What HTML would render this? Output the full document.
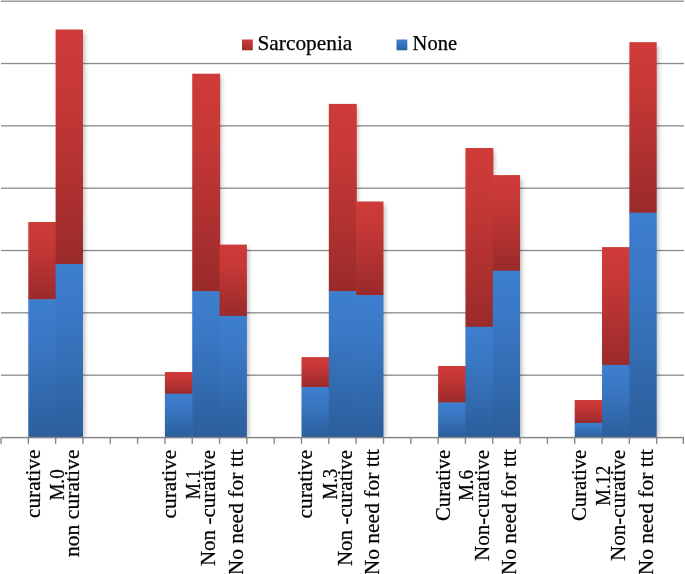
<!DOCTYPE html>
<html><head><meta charset="utf-8"><title>chart</title>
<style>
html,body{margin:0;padding:0;background:#fff;}
body{width:685px;height:574px;overflow:hidden;}
svg{display:block;}
text{font-family:"Liberation Serif",serif;fill:#000;stroke:#000;stroke-width:0.25px;}
.tx{opacity:0.999;}
</style></head><body>
<svg width="685" height="574" viewBox="0 0 685 574">
<defs>
<linearGradient id="gr" x1="0" y1="0" x2="0" y2="1"><stop offset="0" stop-color="#cf3b38"/><stop offset="0.3" stop-color="#c53836"/><stop offset="1" stop-color="#9a2a2a"/></linearGradient>
<linearGradient id="gb" x1="0" y1="0" x2="0" y2="1"><stop offset="0" stop-color="#3d7ecf"/><stop offset="0.3" stop-color="#3a78c5"/><stop offset="1" stop-color="#2b5e9b"/></linearGradient>
<clipPath id="cp"><rect x="0" y="0" width="685" height="437.2"/></clipPath>
<filter id="sh" x="-30%" y="-5%" width="180%" height="110%"><feGaussianBlur stdDeviation="2"/></filter>
</defs>
<rect width="685" height="574" fill="#fff"/>
<rect x="1.0" y="0.55" width="683.0" height="1.3" fill="#8a8a8a"/>
<rect x="1.0" y="62.88" width="683.0" height="1.3" fill="#8a8a8a"/>
<rect x="1.0" y="125.21" width="683.0" height="1.3" fill="#8a8a8a"/>
<rect x="1.0" y="187.54" width="683.0" height="1.3" fill="#8a8a8a"/>
<rect x="1.0" y="249.87" width="683.0" height="1.3" fill="#8a8a8a"/>
<rect x="1.0" y="312.20" width="683.0" height="1.3" fill="#8a8a8a"/>
<rect x="1.0" y="374.53" width="683.0" height="1.3" fill="#8a8a8a"/>
<g clip-path="url(#cp)"><g filter="url(#sh)" fill="#000" opacity="0.24">
<rect x="30.32" y="225.50" width="27.32" height="212.10"/>
<rect x="57.64" y="33.00" width="27.32" height="404.60"/>
<rect x="166.92" y="375.50" width="27.32" height="62.10"/>
<rect x="194.24" y="77.20" width="27.32" height="360.40"/>
<rect x="221.56" y="248.10" width="27.32" height="189.50"/>
<rect x="303.52" y="360.60" width="27.32" height="77.00"/>
<rect x="330.84" y="107.40" width="27.32" height="330.20"/>
<rect x="358.16" y="205.00" width="27.32" height="232.60"/>
<rect x="440.12" y="369.50" width="27.32" height="68.10"/>
<rect x="467.44" y="151.50" width="27.32" height="286.10"/>
<rect x="494.76" y="178.60" width="27.32" height="259.00"/>
<rect x="576.72" y="403.50" width="27.32" height="34.10"/>
<rect x="604.04" y="250.60" width="27.32" height="187.00"/>
<rect x="631.36" y="45.70" width="27.32" height="391.90"/>
</g></g>
<rect x="28.32" y="222.00" width="27.92" height="77.80" fill="url(#gr)"/>
<rect x="28.32" y="299.30" width="27.92" height="138.30" fill="url(#gb)"/>
<rect x="55.64" y="29.50" width="27.32" height="235.00" fill="url(#gr)"/>
<rect x="55.64" y="264.00" width="27.32" height="173.60" fill="url(#gb)"/>
<rect x="164.92" y="372.00" width="27.92" height="22.20" fill="url(#gr)"/>
<rect x="164.92" y="393.70" width="27.92" height="43.90" fill="url(#gb)"/>
<rect x="192.24" y="73.70" width="27.92" height="218.00" fill="url(#gr)"/>
<rect x="192.24" y="291.20" width="27.92" height="146.40" fill="url(#gb)"/>
<rect x="219.56" y="244.60" width="27.32" height="71.80" fill="url(#gr)"/>
<rect x="219.56" y="315.90" width="27.32" height="121.70" fill="url(#gb)"/>
<rect x="301.52" y="357.10" width="27.92" height="30.50" fill="url(#gr)"/>
<rect x="301.52" y="387.10" width="27.92" height="50.50" fill="url(#gb)"/>
<rect x="328.84" y="103.90" width="27.92" height="187.80" fill="url(#gr)"/>
<rect x="328.84" y="291.20" width="27.92" height="146.40" fill="url(#gb)"/>
<rect x="356.16" y="201.50" width="27.32" height="94.10" fill="url(#gr)"/>
<rect x="356.16" y="295.10" width="27.32" height="142.50" fill="url(#gb)"/>
<rect x="438.12" y="366.00" width="27.92" height="36.90" fill="url(#gr)"/>
<rect x="438.12" y="402.40" width="27.92" height="35.20" fill="url(#gb)"/>
<rect x="465.44" y="148.00" width="27.92" height="179.30" fill="url(#gr)"/>
<rect x="465.44" y="326.80" width="27.92" height="110.80" fill="url(#gb)"/>
<rect x="492.76" y="175.10" width="27.32" height="96.10" fill="url(#gr)"/>
<rect x="492.76" y="270.70" width="27.32" height="166.90" fill="url(#gb)"/>
<rect x="574.72" y="400.00" width="27.92" height="23.40" fill="url(#gr)"/>
<rect x="574.72" y="422.90" width="27.92" height="14.70" fill="url(#gb)"/>
<rect x="602.04" y="247.10" width="27.92" height="118.30" fill="url(#gr)"/>
<rect x="602.04" y="364.90" width="27.92" height="72.70" fill="url(#gb)"/>
<rect x="629.36" y="42.20" width="27.32" height="171.00" fill="url(#gr)"/>
<rect x="629.36" y="212.70" width="27.32" height="224.90" fill="url(#gb)"/>
<rect x="1.0" y="436.85" width="683.0" height="1.5" fill="#868686"/>
<rect x="0.30" y="437.60" width="1.4" height="6.2" fill="#868686"/>
<rect x="27.62" y="437.60" width="1.4" height="6.2" fill="#868686"/>
<rect x="54.94" y="437.60" width="1.4" height="6.2" fill="#868686"/>
<rect x="82.26" y="437.60" width="1.4" height="6.2" fill="#868686"/>
<rect x="109.58" y="437.60" width="1.4" height="6.2" fill="#868686"/>
<rect x="136.90" y="437.60" width="1.4" height="6.2" fill="#868686"/>
<rect x="164.22" y="437.60" width="1.4" height="6.2" fill="#868686"/>
<rect x="191.54" y="437.60" width="1.4" height="6.2" fill="#868686"/>
<rect x="218.86" y="437.60" width="1.4" height="6.2" fill="#868686"/>
<rect x="246.18" y="437.60" width="1.4" height="6.2" fill="#868686"/>
<rect x="273.50" y="437.60" width="1.4" height="6.2" fill="#868686"/>
<rect x="300.82" y="437.60" width="1.4" height="6.2" fill="#868686"/>
<rect x="328.14" y="437.60" width="1.4" height="6.2" fill="#868686"/>
<rect x="355.46" y="437.60" width="1.4" height="6.2" fill="#868686"/>
<rect x="382.78" y="437.60" width="1.4" height="6.2" fill="#868686"/>
<rect x="410.10" y="437.60" width="1.4" height="6.2" fill="#868686"/>
<rect x="437.42" y="437.60" width="1.4" height="6.2" fill="#868686"/>
<rect x="464.74" y="437.60" width="1.4" height="6.2" fill="#868686"/>
<rect x="492.06" y="437.60" width="1.4" height="6.2" fill="#868686"/>
<rect x="519.38" y="437.60" width="1.4" height="6.2" fill="#868686"/>
<rect x="546.70" y="437.60" width="1.4" height="6.2" fill="#868686"/>
<rect x="574.02" y="437.60" width="1.4" height="6.2" fill="#868686"/>
<rect x="601.34" y="437.60" width="1.4" height="6.2" fill="#868686"/>
<rect x="628.66" y="437.60" width="1.4" height="6.2" fill="#868686"/>
<rect x="655.98" y="437.60" width="1.4" height="6.2" fill="#868686"/>
<rect x="682.70" y="437.60" width="1.4" height="6.2" fill="#868686"/>
<g class="tx">
<rect x="242" y="39.5" width="10.8" height="10.8" fill="url(#gr)"/>
<rect x="396.5" y="39.5" width="10.8" height="10.8" fill="url(#gb)"/>
<text x="257.5" y="50.0" font-size="20.2" textLength="94.8" lengthAdjust="spacingAndGlyphs">Sarcopenia</text>
<text x="412.6" y="50.0" font-size="20.2" textLength="44.4" lengthAdjust="spacingAndGlyphs">None</text>
<text transform="translate(39.5,449.5) rotate(-90)" text-anchor="end" font-size="21" textLength="68.5" lengthAdjust="spacingAndGlyphs">curative</text>
<text transform="translate(64.4,469.3) rotate(-90)" text-anchor="end" font-size="21" textLength="31.3" lengthAdjust="spacingAndGlyphs">M.0</text>
<text transform="translate(79.3,449.5) rotate(-90)" text-anchor="end" font-size="21" textLength="107.6" lengthAdjust="spacingAndGlyphs">non curative</text>
<text transform="translate(176.0,449.8) rotate(-90)" text-anchor="end" font-size="21" textLength="68.7" lengthAdjust="spacingAndGlyphs">curative</text>
<text transform="translate(200.0,469.6) rotate(-90)" text-anchor="end" font-size="21" textLength="29.6" lengthAdjust="spacingAndGlyphs">M.1</text>
<text transform="translate(215.3,449.8) rotate(-90)" text-anchor="end" font-size="21" textLength="116.3" lengthAdjust="spacingAndGlyphs">Non -curative</text>
<text transform="translate(242.8,449.4) rotate(-90)" text-anchor="end" font-size="21" textLength="125.9" lengthAdjust="spacingAndGlyphs">No need for ttt</text>
<text transform="translate(312.4,449.8) rotate(-90)" text-anchor="end" font-size="21" textLength="68.7" lengthAdjust="spacingAndGlyphs">curative</text>
<text transform="translate(336.7,468.8) rotate(-90)" text-anchor="end" font-size="21" textLength="30.7" lengthAdjust="spacingAndGlyphs">M.3</text>
<text transform="translate(351.6,449.8) rotate(-90)" text-anchor="end" font-size="21" textLength="116.3" lengthAdjust="spacingAndGlyphs">Non -curative</text>
<text transform="translate(379.2,449.4) rotate(-90)" text-anchor="end" font-size="21" textLength="125.9" lengthAdjust="spacingAndGlyphs">No need for ttt</text>
<text transform="translate(449.7,449.8) rotate(-90)" text-anchor="end" font-size="21" textLength="71.2" lengthAdjust="spacingAndGlyphs">Curative</text>
<text transform="translate(473.4,470.0) rotate(-90)" text-anchor="end" font-size="21" textLength="31.1" lengthAdjust="spacingAndGlyphs">M.6</text>
<text transform="translate(488.8,449.8) rotate(-90)" text-anchor="end" font-size="21" textLength="111.2" lengthAdjust="spacingAndGlyphs">Non-curative</text>
<text transform="translate(516.4,449.4) rotate(-90)" text-anchor="end" font-size="21" textLength="125.9" lengthAdjust="spacingAndGlyphs">No need for ttt</text>
<text transform="translate(585.8,449.8) rotate(-90)" text-anchor="end" font-size="21" textLength="71.2" lengthAdjust="spacingAndGlyphs">Curative</text>
<text transform="translate(609.6,465.7) rotate(-90)" text-anchor="end" font-size="21" textLength="40.0" lengthAdjust="spacingAndGlyphs">M.12</text>
<text transform="translate(624.8,449.8) rotate(-90)" text-anchor="end" font-size="21" textLength="111.2" lengthAdjust="spacingAndGlyphs">Non-curative</text>
<text transform="translate(653.0,449.4) rotate(-90)" text-anchor="end" font-size="21" textLength="125.9" lengthAdjust="spacingAndGlyphs">No need for ttt</text>
</g>
</svg>
</body></html>
